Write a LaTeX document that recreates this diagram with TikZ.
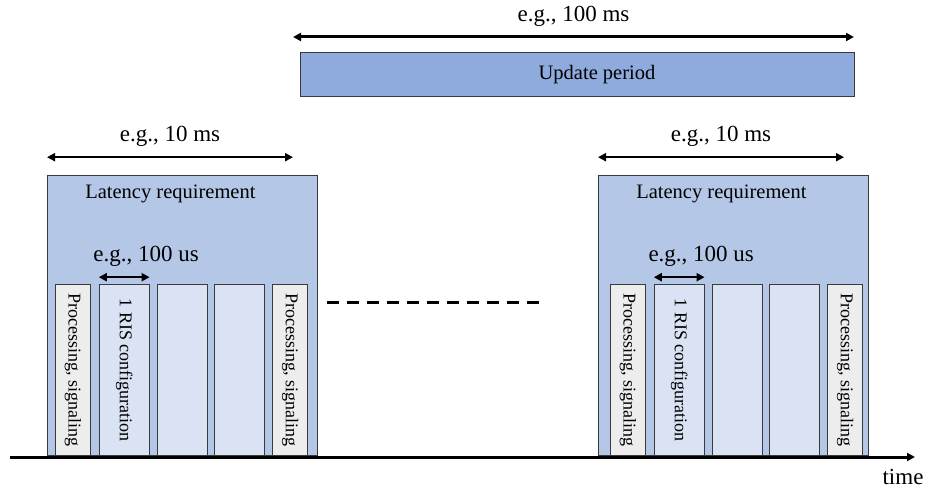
\documentclass[tikz,border=0pt]{standalone}
\usepackage{fontspec}
\setmainfont{Liberation Serif}
\usepackage{xcolor}
\usetikzlibrary{positioning,arrows.meta}

\definecolor{reqblue}{HTML}{B4C7E7}
\definecolor{updblue}{HTML}{8FAADC}
\definecolor{cfgblue}{HTML}{DAE3F3}
\definecolor{procgray}{HTML}{EDEDED}
\definecolor{rimgray}{HTML}{3A3A3A}

\begin{document}
\begin{tikzpicture}[x=1pt,y=1pt,>={Triangle[length=8pt,width=8pt]},node distance=7pt,
	box/.style={draw=rimgray,line width=0.8pt,inner sep=0pt,anchor=south west},
	req/.style={box,fill=reqblue,minimum width=270pt,minimum height=280pt},
	proc/.style={box,fill=procgray,minimum width=35pt,minimum height=171pt},
	cfg/.style={proc,fill=cfgblue,minimum width=50pt},
	big/.style={font=\fontsize{23}{27}\selectfont},
	mid/.style={font=\fontsize{20.5}{24}\selectfont},
	vert/.style={font=\fontsize{18}{21}\selectfont,rotate=-90},
	span/.style={<->,line width=2.5pt}]
	\useasboundingbox (0,0) rectangle (927,488);

	% update period on top
	\node[box,fill=updblue,minimum width=554pt,minimum height=44pt] (upd) at (300,391) {};
	\node[mid] (updtxt) at (597,413) {Update period};
	\coordinate (ua) at (293,451);
	\coordinate (ub) at (854,451);
	\draw[span,line width=3pt] (ua) -- node[big,above=6pt] {e.g., 100 ms} (ub);

	% two latency windows
	\foreach \b/\x/\d in {1/47/8,2/598/12}{
		\node[req] (req\b) at (\x,32) {};
		\node[mid] (reqtxt\b) at ([xshift=-12pt,yshift=-19pt]req\b.north) {Latency requirement};
		\node[proc] (pa\b) at (\x+\d,32) {};
		\node[cfg,right=8pt of pa\b] (ca\b) {};
		\node[cfg,right=of ca\b] (cb\b) {};
		\node[cfg,right=of cb\b] (cc\b) {};
		\node[proc,right=of cc\b] (pb\b) {};
		\node[vert] at (pa\b) {Processing, signaling};
		\node[vert] at (pb\b) {Processing, signaling};
		\node[vert] at (ca\b) {1 RIS configuration};
		\coordinate (ta\b) at ([yshift=18pt]req\b.north west);
		\coordinate (tb\b) at ([xshift=246pt,yshift=18pt]req\b.north west);
		\draw[span] (ta\b) -- node[big,above=6pt] {e.g., 10 ms} (tb\b);
		\draw[span] ([yshift=7pt]ca\b.north west) -- node[big,above=6pt,xshift=22pt] {e.g., 100 us} ([yshift=7pt]ca\b.north east);
	}

	% gap between the windows
	\coordinate (da) at (327,185);
	\coordinate (db) at (542,185);
	\draw[line width=3pt,dash pattern=on 12pt off 8pt] (da) -- (db);

	% time axis
	\coordinate (t0) at (10,31);
	\coordinate (t1) at (915,31);
	\draw[->,line width=3pt] (t0) -- (t1);
	\node[big,inner sep=1pt] (time) at (903,11) {time};
\end{tikzpicture}
\end{document}
